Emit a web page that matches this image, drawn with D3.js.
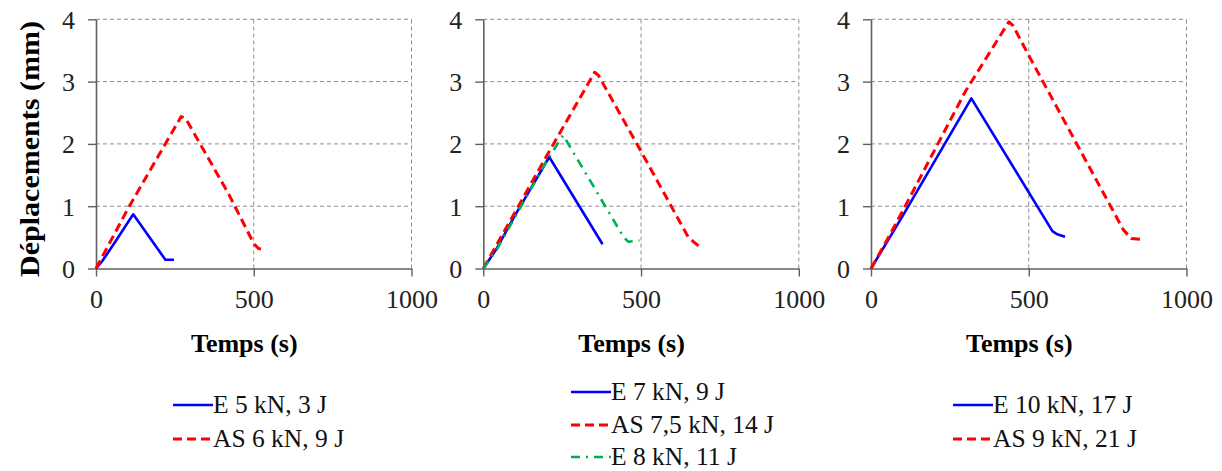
<!DOCTYPE html>
<html><head><meta charset="utf-8">
<script src="https://cdn.jsdelivr.net/npm/d3@7"></script>
<style>body{margin:0;background:#fff}svg{display:block}</style>
</head><body>
<script>
// ---- data ----
const xTicks = [0, 500, 1000];
const yTicks = [0, 1, 2, 3, 4];
const yTitle = "Déplacements (mm)";
const xTitle = "Temps (s)";

// panel 1
const p1_E5 = [[0,0],[20,0.12],[60,0.42],[118,0.87],[220,0.14],[247,0.14]];
const p1_AS6 = [[0,0],[100,0.95],[270,2.44],[285,2.4],[420,1.2],[500,0.4],[515,0.32],[535,0.3]];
// panel 2
const p2_E7 = [[0,0],[40,0.3],[100,0.85],[209,1.79],[378,0.39]];
const p2_AS75 = [[0,0],[100,0.9],[200,1.8],[353,3.15],[365,3.1],[500,1.88],[650,0.5],[683,0.36]];
const p2_E8 = [[0,0],[40,0.28],[100,0.82],[200,1.72],[253,2.14],[445,0.5],[460,0.43],[495,0.45]];
// panel 3
const p3_E10 = [[0,0],[50,0.42],[100,0.84],[318,2.73],[575,0.6],[590,0.55],[615,0.51]];
const p3_AS9 = [[0,0],[50,0.45],[100,0.92],[300,2.85],[437,3.96],[450,3.9],[500,3.42],[800,0.62],[825,0.48],[857,0.47]];

const legend1 = ["E 5 kN, 3 J", "AS 6 kN, 9 J"];
const legend2 = ["E 7 kN, 9 J", "AS 7,5 kN, 14 J", "E 8 kN, 11 J"];
const legend3 = ["E 10 kN, 17 J", "AS 9 kN, 21 J"];

// ---- styles ----
const styles = {
  blue:  {color:"#0000ff", dash:null, width:2.6},
  red:   {color:"#ff0000", dash:"9,5", width:3},
  green: {color:"#00b050", dash:"9,6,2,6", width:2.6}
};

const panels = [
  {x0:96,   clip:[0,440],   series:[[p1_E5,"blue"],[p1_AS6,"red"]], legend:legend1, lx:173, ly:[405,439]},
  {x0:483.3,clip:[440,826], series:[[p2_E7,"blue"],[p2_AS75,"red"],[p2_E8,"green"]], legend:legend2, lx:571, ly:[392,425,457]},
  {x0:871,  clip:[826,1222],series:[[p3_E10,"blue"],[p3_AS9,"red"]], legend:legend3, lx:953, ly:[405,439]}
];

const W = 1222, H = 471;
const plotTop = 19.3, plotBottom = 268.5, pw = 315.5;
const font = "'Liberation Serif','Times New Roman',serif";

const svg = d3.select("body").append("svg").attr("width", W).attr("height", H);
const defs = svg.append("defs");

panels.forEach((p, i) => {
  defs.append("clipPath").attr("id", "c" + i).append("rect")
    .attr("x", p.clip[0]).attr("y", 0).attr("width", p.clip[1] - p.clip[0]).attr("height", H);
  const g = svg.append("g").attr("clip-path", `url(#c${i})`);
  const x = d3.scaleLinear().domain([0, 1000]).range([p.x0, p.x0 + pw]);
  const y = d3.scaleLinear().domain([0, 4]).range([plotBottom, plotTop]);

  // grid
  g.append("g").selectAll("line").data(yTicks.filter(d => d > 0)).join("line")
    .attr("x1", x(0)).attr("x2", x(1000)).attr("y1", d => y(d)).attr("y2", d => y(d))
    .attr("stroke", "#8c8c8c").attr("stroke-width", 1).attr("stroke-dasharray", "4,3");
  g.append("g").selectAll("line").data(xTicks.filter(d => d > 0)).join("line")
    .attr("y1", y(0)).attr("y2", y(4)).attr("x1", d => x(d)).attr("x2", d => x(d))
    .attr("stroke", "#8c8c8c").attr("stroke-width", 1).attr("stroke-dasharray", "4,3");

  // axes
  const xa = g.append("g").attr("transform", `translate(0,${plotBottom})`)
    .call(d3.axisBottom(x).tickValues(xTicks).tickSize(8).tickSizeOuter(0).tickFormat(d3.format("d")));
  const ya = g.append("g").attr("transform", `translate(${p.x0},0)`)
    .call(d3.axisLeft(y).tickValues(yTicks).tickSize(8).tickSizeOuter(0).tickFormat(d3.format("d")));
  [xa, ya].forEach(a => {
    a.attr("font-family", font);
    a.select(".domain").attr("stroke", "#606060").attr("stroke-width", 1.6);
    a.selectAll(".tick line").attr("stroke", "#606060").attr("stroke-width", 1.4);
    a.selectAll("text").attr("font-family", font).attr("font-size", 26).attr("fill", "#222");
  });
  xa.selectAll(".tick text").attr("dy", null).attr("y", 39);
  ya.selectAll(".tick text").attr("x", -21).attr("dy", "0.34em");

  // lines
  const line = d3.line().x(d => x(d[0])).y(d => y(d[1]));
  p.series.forEach(([data, st]) => {
    const s = styles[st];
    g.append("path").datum(data).attr("d", line).attr("fill", "none")
      .attr("stroke", s.color).attr("stroke-width", s.width)
      .attr("stroke-dasharray", s.dash).attr("stroke-linejoin", "round");
  });

  // x title
  svg.append("text").attr("x", x(470)).attr("y", 352).attr("text-anchor", "middle")
    .attr("font-family", font).attr("font-weight", "bold").attr("font-size", 26).text(xTitle);

  // legend
  p.series.forEach(([data, st], k) => {
    const s = styles[st];
    const ly = p.ly[k];
    svg.append("line").attr("x1", p.lx).attr("x2", p.lx + 40).attr("y1", ly).attr("y2", ly)
      .attr("stroke", s.color).attr("stroke-width", s.width).attr("stroke-dasharray", s.dash);
    svg.append("text").attr("x", p.lx + 40).attr("y", ly + 8)
      .attr("font-family", font).attr("font-size", 25.5).attr("fill", "#111").text(p.legend[k]);
  });
});

// y title
svg.append("text").attr("transform", "translate(39,149) rotate(-90)").attr("text-anchor", "middle")
  .attr("font-family", font).attr("font-weight", "bold").attr("font-size", 28)
  .attr("textLength", 256).attr("lengthAdjust", "spacingAndGlyphs").text(yTitle);
</script>
</body></html>
